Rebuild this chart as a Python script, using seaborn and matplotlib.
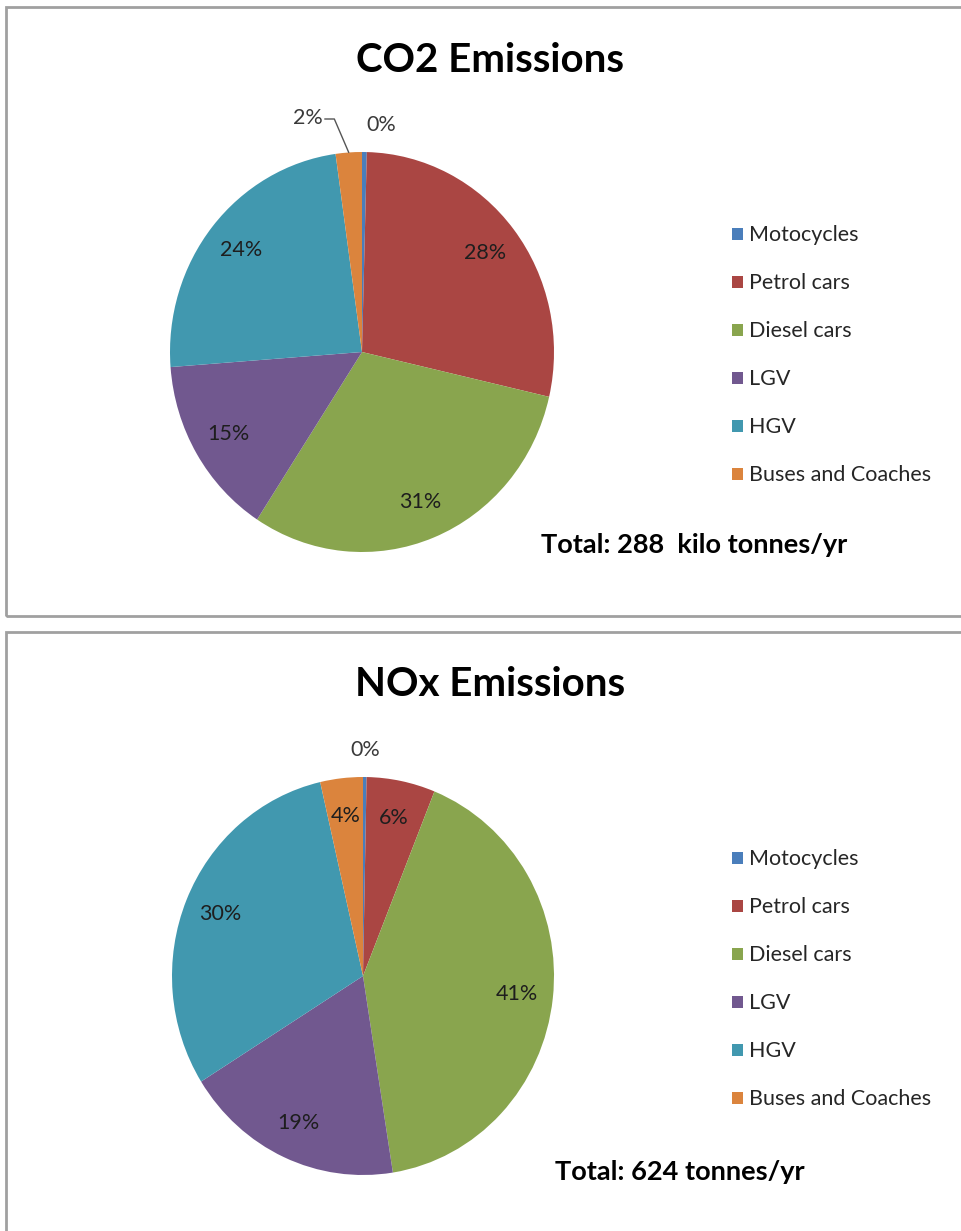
import matplotlib.pyplot as plt
import seaborn as sns
from matplotlib.patches import Rectangle
import numpy as np

categories = ['Motocycles', 'Petrol cars', 'Diesel cars', 'LGV', 'HGV', 'Buses and Coaches']
co2_share = [0.4, 28.2, 30.6, 14.6, 24.0, 2.2]
nox_share = [0.3, 5.8, 41.4, 18.6, 30.3, 3.6]
co2_total = 'Total: 288  kilo tonnes/yr'
nox_total = 'Total: 624 tonnes/yr'

sns.set_style('white')
plt.rcParams['font.family'] = ['Lato', 'DejaVu Sans']
palette = sns.color_palette(['#4A7EBB', '#AA4643', '#89A54E', '#71588F', '#4198AF', '#DB843D'])

W, H = 961, 1231
fig = plt.figure(figsize=(W / 100, H / 100), dpi=100)


def px_axes(cx, cy, rx, ry):
    return fig.add_axes([(cx - rx) / W, 1 - (cy + ry) / H, 2 * rx / W, 2 * ry / H])


def panel_box(y0, y1):
    fig.add_artist(Rectangle((6 / W, 1 - y1 / H), 1.0, (y1 - y0) / H,
                             transform=fig.transFigure, fill=False,
                             ec='#A0A0A0', lw=2.0, clip_on=False))


def mid_point(w, r=1.0):
    m = np.deg2rad((w.theta1 + w.theta2) / 2)
    return r * np.cos(m), r * np.sin(m)


def draw_pie(ax, values, outside):
    wedges, texts, autotexts = ax.pie(
        values, colors=palette, startangle=90, counterclock=False,
        autopct='%.0f%%', pctdistance=0.81, radius=1.0,
        wedgeprops=dict(linewidth=0),
        textprops=dict(fontsize=15.5, color='#1e1e1e'),
    )
    for w in wedges:
        w.set_clip_on(False)
    ax.set_aspect('auto')
    ax.set_xlim(-1, 1)
    ax.set_ylim(-1, 1)
    ax.axis('off')
    for i, (kind, dx) in outside.items():
        t = autotexts[i]
        x, y = mid_point(wedges[i])
        t.set_color('#3a3a3a')
        if kind == 'leader':
            end = (x, y)
            corner = (x - 0.075, 1.165)
            start = (corner[0] - 0.05, 1.165)
            ax.plot([start[0], corner[0], end[0]], [start[1], corner[1], end[1]],
                    color='#555555', lw=1.0, clip_on=False)
            t.set_position((start[0] - 0.01, 1.17))
            t.set_ha('right')
        else:
            t.set_position((x + dx, 1.135))
    return wedges


def add_legend(wedges, top):
    fig.legend(wedges, categories, loc='upper left', bbox_to_anchor=(713 / W, 1 - top / H),
               frameon=False, fontsize=15.5, handlelength=0.48, handleheight=0.48,
               handletextpad=0.3, labelspacing=1.3, labelcolor='#262626')


# CO2 panel
panel_box(7, 616)
ax1 = px_axes(362, 352, 192, 200)
w1 = draw_pie(ax1, co2_share, {5: ('leader', 0), 0: ('plain', 0.09)})
fig.text(490 / W, 1 - 60 / H, 'CO2 Emissions', ha='center', va='center',
         fontsize=29, fontweight='bold', color='black')
add_legend(w1, 206)
fig.text(541 / W, 1 - 545 / H, co2_total, ha='left', va='center',
         fontsize=19.5, fontweight='bold', color='black')

# NOx panel
panel_box(632, 1300)
ax2 = px_axes(363, 976, 191, 199)
w2 = draw_pie(ax2, nox_share, {0: ('plain', 0.0)})
fig.text(490 / W, 1 - 685 / H, 'NOx Emissions', ha='center', va='center',
         fontsize=29, fontweight='bold', color='black')
add_legend(w2, 830)
fig.text(555 / W, 1 - 1172 / H, nox_total, ha='left', va='center',
         fontsize=19.5, fontweight='bold', color='black')

fig.savefig('out.png', dpi=100)
